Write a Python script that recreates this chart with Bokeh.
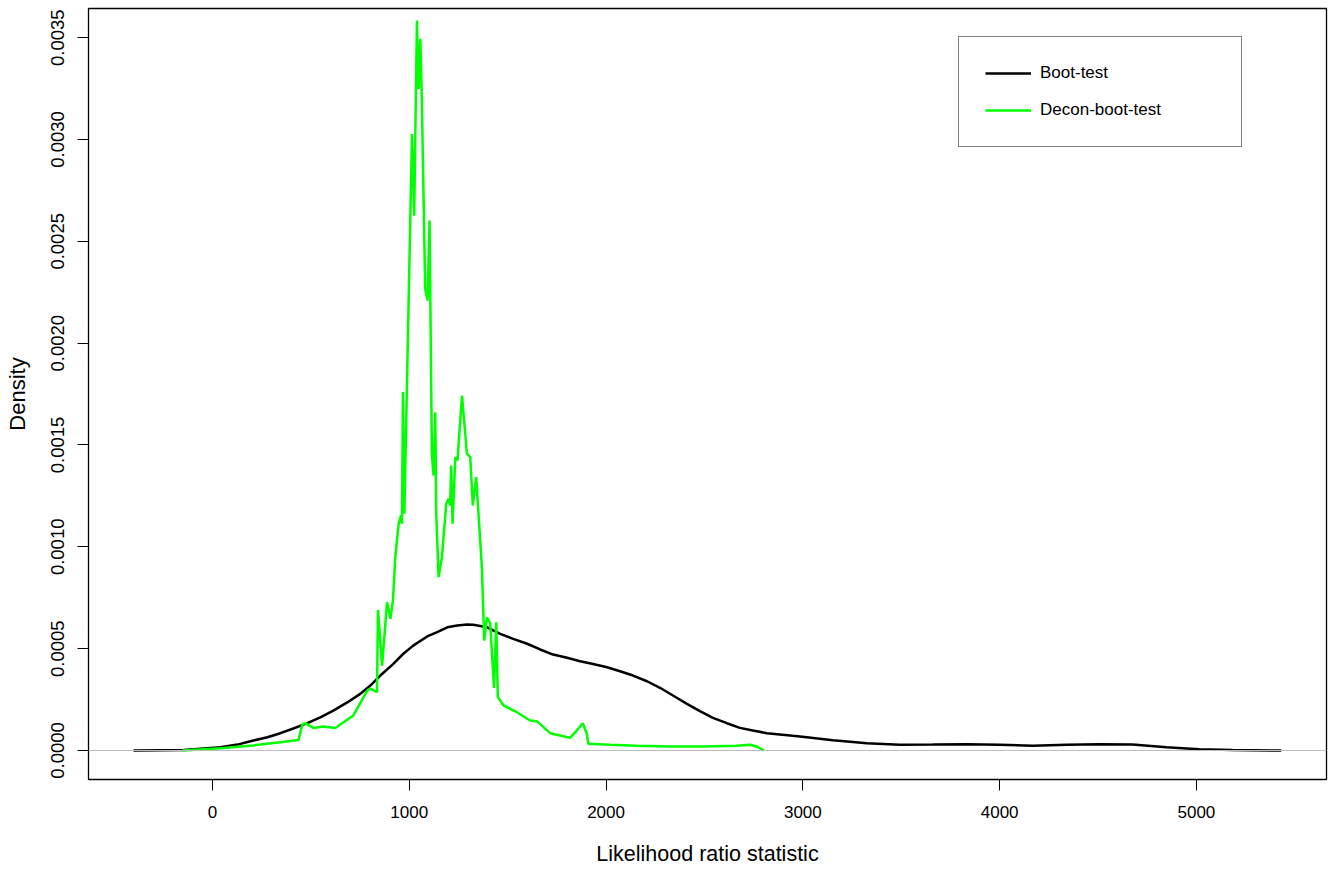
from bokeh.plotting import figure
from bokeh.models import Legend, LegendItem, FixedTicker, PrintfTickFormatter, Span, Range1d
from bokeh.embed import file_html
from bokeh.resources import INLINE

# Boot-test density
boot_x = [-401, -147, 41, 127, 208, 279, 345, 411, 482, 548, 614, 685, 751, 802, 853, 919,
          970, 1020, 1091, 1142, 1193, 1244, 1294, 1325, 1396, 1462, 1528, 1599, 1665, 1731,
          1802, 1868, 1934, 2005, 2071, 2137, 2208, 2274, 2340, 2411, 2477, 2543, 2614, 2680,
          2746, 2817, 2883, 2949, 3020, 3086, 3152, 3240, 3325, 3492, 3660, 3832, 4000, 4168,
          4340, 4508, 4675, 4848, 5015, 5183, 5431]
boot_y = [0.0, 0.000003, 0.000016, 0.000029, 0.000049, 0.000065, 0.000085, 0.000108, 0.000134,
          0.000163, 0.000196, 0.000236, 0.000278, 0.000319, 0.000368, 0.000425,
          0.000475, 0.000515, 0.00056, 0.000581, 0.000605, 0.000614, 0.000619, 0.000617,
          0.000605, 0.000573, 0.000548, 0.000524, 0.000496, 0.000471,
          0.000455, 0.000438, 0.000425, 0.000409, 0.000389, 0.000368, 0.00034, 0.000308,
          0.00027, 0.000229, 0.000193, 0.000160, 0.000134, 0.000111,
          0.000098, 0.000085, 0.000079, 0.000072, 0.000065, 0.000058, 0.000050, 0.000043,
          0.000036, 0.000028, 0.000029, 0.000031, 0.000028, 0.000023,
          0.000028, 0.000031, 0.000029, 0.000016, 0.000006, 0.000002, 0.0]

# Decon-boot-test density
decon_x = [-152, 41, 208, 345, 437, 457, 472, 513, 563, 624, 716, 787, 802, 836, 841, 862,
           887, 904, 917, 929, 946, 958, 963, 968, 975, 1014, 1025, 1039, 1047, 1056, 1064,
           1081, 1093, 1103, 1115, 1123, 1132, 1137, 1149, 1166, 1188, 1200, 1208, 1213,
           1220, 1234, 1245, 1268, 1293, 1310, 1323, 1340, 1369, 1381, 1394, 1411, 1431,
           1442, 1450, 1479, 1547, 1614, 1648, 1716, 1766, 1817, 1851, 1882, 1902, 1910,
           2020, 2156, 2325, 2494, 2663, 2731, 2765, 2802]
decon_y = [0.0, 0.000011, 0.000025, 0.000041, 0.000052, 0.000128, 0.000134, 0.000111,
           0.000118, 0.000110, 0.000172, 0.000295, 0.000304, 0.000286, 0.00069, 0.000417,
           0.000728, 0.000647, 0.000736, 0.000949, 0.001113, 0.001154, 0.001113, 0.00176,
           0.001162, 0.003027, 0.002626, 0.003584, 0.003248, 0.003494, 0.00319,
           0.002267, 0.002209, 0.002602, 0.001457, 0.00135, 0.00166, 0.001163, 0.000851,
           0.000949, 0.001211, 0.001236, 0.001203, 0.001399,
           0.001113, 0.00144, 0.001424, 0.001743, 0.001457, 0.00144, 0.001203, 0.001342,
           0.0009, 0.00054, 0.000654, 0.000625, 0.000307,
           0.00063, 0.000262, 0.000221, 0.000188, 0.000147, 0.000144, 0.000085, 0.000074,
           0.000062, 0.000098, 0.000134, 0.000082, 0.000033,
           0.000028, 0.000023, 0.00002, 0.00002, 0.000023, 0.000028, 0.00002, 0.0]

x_ticks = [0, 1000, 2000, 3000, 4000, 5000]
y_ticks = [0.0, 0.0005, 0.0010, 0.0015, 0.0020, 0.0025, 0.0030, 0.0035]
series_names = ["Boot-test", "Decon-boot-test"]
x_title = "Likelihood ratio statistic"
y_title = "Density"

FONT = "Liberation Sans"

p = figure(width=1328, height=872, output_backend="svg", toolbar_location=None,
           x_range=Range1d(-630, 5661), y_range=Range1d(-0.0001424, 0.003643),
           min_border_left=88, min_border_right=2, min_border_top=8, min_border_bottom=93)
p.background_fill_color = "white"
p.border_fill_color = "white"
p.outline_line_color = "black"
p.outline_line_width = 1.3
p.xgrid.visible = False
p.ygrid.visible = False

zero = Span(location=0, dimension="width", line_color="#bebebe", line_width=1)
p.add_layout(zero)

r1 = p.line(boot_x, boot_y, line_color="black", line_width=2.5)
r2 = p.line(decon_x, decon_y, line_color="#00ff00", line_width=2.5)

for ax in (p.xaxis[0], p.yaxis[0]):
    ax.axis_line_color = "black"
    ax.major_tick_out = 11
    ax.major_tick_in = 0
    ax.minor_tick_line_color = None
    ax.major_label_text_font = FONT
    ax.axis_label_text_font = FONT
    ax.axis_label_text_font_style = "normal"
    ax.major_label_text_color = "black"
    ax.axis_label_text_color = "black"

p.xaxis[0].ticker = FixedTicker(ticks=x_ticks)
p.xaxis[0].major_label_text_font_size = "17px"
p.xaxis[0].major_label_standoff = 15
p.xaxis[0].axis_label = x_title
p.xaxis[0].axis_label_text_font_size = "21.5px"
p.xaxis[0].axis_label_standoff = 21

p.yaxis[0].ticker = FixedTicker(ticks=y_ticks)
p.yaxis[0].formatter = PrintfTickFormatter(format="%.4f")
p.yaxis[0].major_label_orientation = "vertical"
p.yaxis[0].major_label_text_font_size = "18.5px"
p.yaxis[0].major_label_standoff = 13
p.yaxis[0].axis_label = y_title
p.yaxis[0].axis_label_text_font_size = "22px"
p.yaxis[0].axis_label_standoff = 19

legend = Legend(items=[LegendItem(label=series_names[0], renderers=[r1]),
                       LegendItem(label=series_names[1], renderers=[r2])],
                location=(870, 632), padding=26, spacing=17, glyph_width=46, glyph_height=20,
                label_height=20, label_width=175, label_standoff=9,
                label_text_font=FONT, label_text_font_size="17px", label_text_color="black",
                border_line_color="black", border_line_width=1.3,
                background_fill_color="white", background_fill_alpha=1.0, margin=0)
p.add_layout(legend)

open("out.html", "w").write(file_html(p, INLINE))
